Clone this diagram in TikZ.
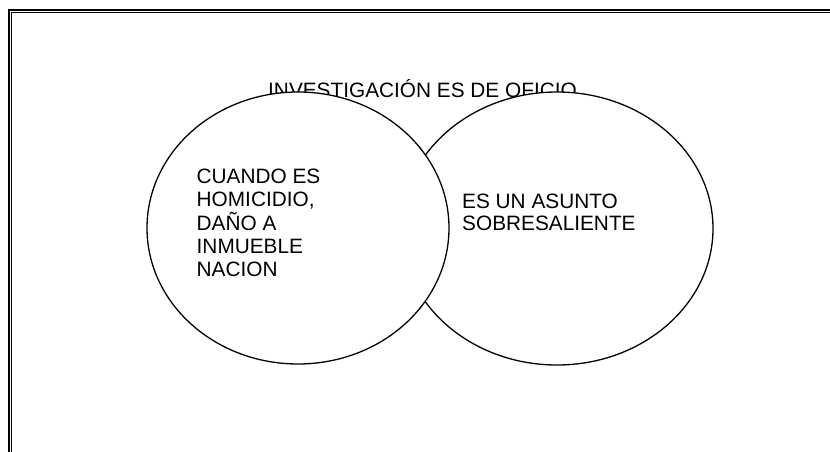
\documentclass[tikz,border=0pt]{standalone}
\usepackage{fontspec}
\setmainfont{Liberation Sans}
\usetikzlibrary{shapes.geometric}
\begin{document}
\begin{tikzpicture}[x=1pt,y=-1pt,
  oval/.style={ellipse,draw=black,fill=white,line width=1.3pt,inner sep=0pt},
  lbl/.style={anchor=base west,inner sep=0pt,font=\fontsize{20.8}{23.5}\selectfont}]
\useasboundingbox (0,0) rectangle (830,452);
\fill[white] (0,0) rectangle (830,452);
\draw[line width=2pt] (9,452) -- (9,9.7) -- (830,9.7);
\draw[line width=1.3pt] (11.7,452) -- (11.7,12.7) -- (830,12.7);
\node[lbl] (title) at (268,97.5) {INVESTIGACIÓN ES DE OFICIO};
\node[oval,minimum width=312pt,minimum height=273pt] (right) at (557,228.5) {};
\node[oval,minimum width=302pt,minimum height=272pt] (left) at (298,228) {};
\node[lbl] (l1) at (196.5,183.5) {CUANDO ES};
\node[lbl] (l2) at (196.5,206.8) {HOMICIDIO,};
\node[lbl] (l3) at (196.5,230.1) {DAÑO A};
\node[lbl] (l4) at (196.5,253.4) {INMUEBLE};
\node[lbl] (l5) at (196.5,276.7) {NACION};
\node[lbl] (r1) at (462,208) {ES UN ASUNTO};
\node[lbl] (r2) at (462,230) {SOBRESALIENTE};
\end{tikzpicture}
\end{document}
